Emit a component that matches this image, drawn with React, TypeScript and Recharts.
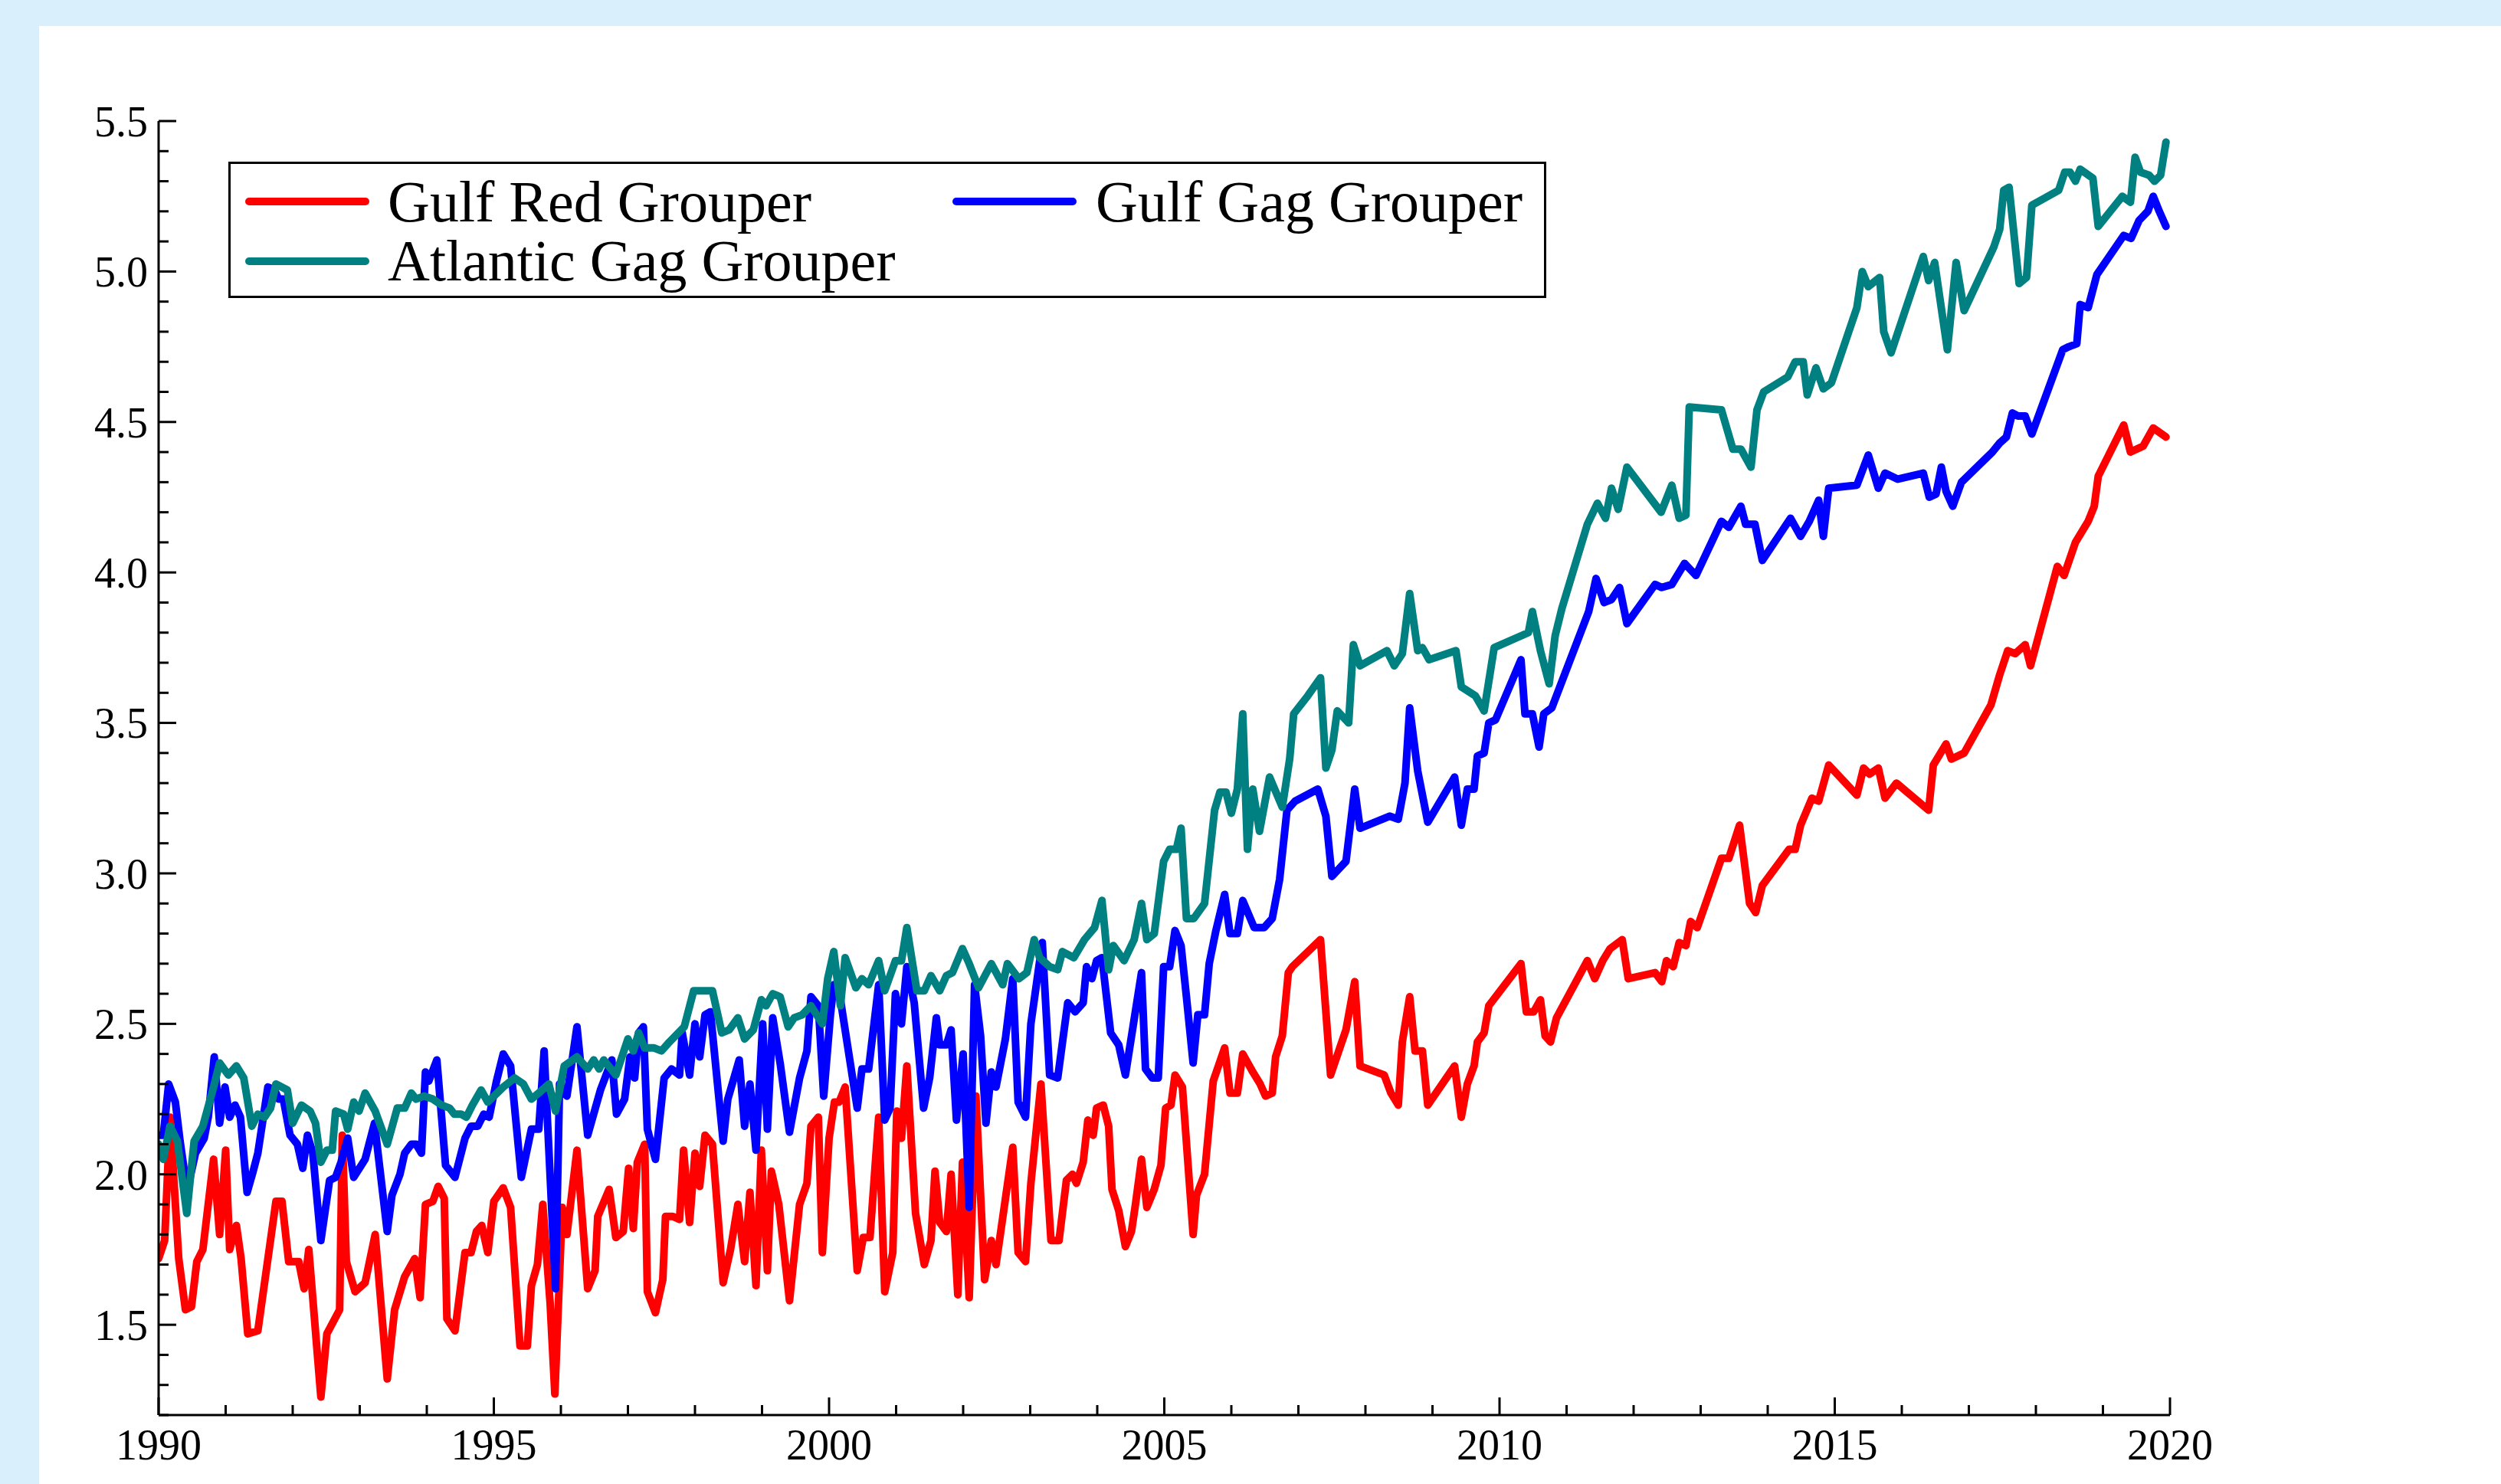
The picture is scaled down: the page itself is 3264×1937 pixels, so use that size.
import { Line, LineChart, XAxis, YAxis } from "recharts";

// Gulf Red Grouper
const redYears = [
  1990.0, 1990.09, 1990.17, 1990.3, 1990.4, 1990.49, 1990.57, 1990.66, 1990.82, 1990.91,
  1991.0, 1991.06, 1991.16, 1991.23, 1991.33, 1991.48, 1991.75, 1991.84, 1991.94, 1992.09,
  1992.17, 1992.24, 1992.42, 1992.51, 1992.7, 1992.74, 1992.8, 1992.93, 1993.08, 1993.23,
  1993.41, 1993.52, 1993.67, 1993.82, 1993.9, 1993.98, 1994.09, 1994.17, 1994.26, 1994.3,
  1994.42, 1994.57, 1994.66, 1994.74, 1994.82, 1994.91, 1995.0, 1995.14, 1995.25, 1995.39,
  1995.5, 1995.56, 1995.65, 1995.73, 1995.84, 1995.91, 1996.02, 1996.09, 1996.24, 1996.4,
  1996.51, 1996.55, 1996.72, 1996.82, 1996.93, 1997.01, 1997.08, 1997.14, 1997.25, 1997.29,
  1997.41, 1997.52, 1997.56, 1997.67, 1997.77, 1997.83, 1997.92, 1998.0, 1998.07, 1998.15,
  1998.26, 1998.42, 1998.53, 1998.64, 1998.74, 1998.82, 1998.91, 1998.99, 1999.08, 1999.14,
  1999.25, 1999.41, 1999.56, 1999.67, 1999.73, 1999.84, 1999.9, 2000.0, 2000.08, 2000.15,
  2000.24, 2000.42, 2000.51, 2000.61, 2000.74, 2000.83, 2000.95, 2001.01, 2001.08, 2001.16,
  2001.29, 2001.42, 2001.52, 2001.58, 2001.65, 2001.75, 2001.82, 2001.92, 2001.99, 2002.09,
  2002.19, 2002.32, 2002.42, 2002.49, 2002.74, 2002.82, 2002.93, 2003.01, 2003.16, 2003.31,
  2003.43, 2003.54, 2003.63, 2003.69, 2003.79, 2003.86, 2003.94, 2003.99, 2004.09, 2004.17,
  2004.22, 2004.32, 2004.42, 2004.51, 2004.57, 2004.66, 2004.74, 2004.85, 2004.95, 2005.02,
  2005.1, 2005.16, 2005.27, 2005.43, 2005.48, 2005.6, 2005.73, 2005.9, 2005.98, 2006.09,
  2006.17, 2006.32, 2006.43, 2006.51, 2006.61, 2006.66, 2006.76, 2006.85, 2006.91, 2007.33,
  2007.48, 2007.71, 2007.84, 2007.92, 2008.28, 2008.38, 2008.49, 2008.55, 2008.66, 2008.74,
  2008.85, 2008.93, 2009.33, 2009.43, 2009.52, 2009.62, 2009.67, 2009.77, 2009.84, 2010.32,
  2010.4, 2010.51, 2010.61, 2010.68, 2010.76, 2010.85, 2011.31, 2011.42, 2011.54, 2011.65,
  2011.83, 2011.92, 2012.32, 2012.42, 2012.49, 2012.59, 2012.68, 2012.78, 2012.85, 2012.95,
  2013.31, 2013.42, 2013.58, 2013.73, 2013.82, 2013.92, 2014.32, 2014.41, 2014.49, 2014.66,
  2014.76, 2014.91, 2015.33, 2015.43, 2015.52, 2015.65, 2015.75, 2015.92, 2016.4, 2016.47,
  2016.66, 2016.74, 2016.93, 2017.33, 2017.46, 2017.58, 2017.69, 2017.84, 2017.92, 2018.32,
  2018.42, 2018.59, 2018.78, 2018.87, 2018.93, 2019.31, 2019.41, 2019.6, 2019.75, 2019.94,
];
const redValues = [
  1.72, 1.78, 2.19, 1.72, 1.55, 1.56, 1.71, 1.75, 2.05, 1.8,
  2.08, 1.75, 1.83, 1.72, 1.47, 1.48, 1.91, 1.91, 1.71, 1.71,
  1.62, 1.75, 1.26, 1.47, 1.55, 2.13, 1.71, 1.61, 1.64, 1.8,
  1.32, 1.55, 1.66, 1.72, 1.59, 1.9, 1.91, 1.96, 1.92, 1.52,
  1.48, 1.74, 1.74, 1.81, 1.83, 1.74, 1.91, 1.955, 1.89, 1.43,
  1.43, 1.63, 1.7, 1.9, 1.57, 1.27, 1.89, 1.8, 2.08, 1.62,
  1.68, 1.86, 1.95, 1.79, 1.81, 2.02, 1.82, 2.04, 2.1, 1.61,
  1.54, 1.65, 1.86, 1.86, 1.85, 2.08, 1.84, 2.07, 1.96, 2.13,
  2.1, 1.64, 1.75, 1.9, 1.71, 1.94, 1.63, 2.08, 1.68, 2.01,
  1.9, 1.58, 1.9, 1.97, 2.16, 2.19, 1.74, 2.12, 2.24, 2.24,
  2.29, 1.68, 1.79, 1.79, 2.19, 1.61, 1.74, 2.21, 2.12, 2.36,
  1.87, 1.7, 1.78, 2.01, 1.84, 1.81, 2.0, 1.6, 2.04, 1.59,
  2.26, 1.65, 1.78, 1.7, 2.09, 1.74, 1.71, 1.97, 2.3, 1.78,
  1.78, 1.98, 2.0, 1.97, 2.04, 2.18, 2.13, 2.22, 2.23, 2.16,
  1.95, 1.88, 1.76, 1.81, 1.9, 2.05, 1.89, 1.95, 2.03, 2.22,
  2.23, 2.33, 2.29, 1.8, 1.93, 2.0, 2.31, 2.42, 2.27, 2.27,
  2.4, 2.34, 2.3, 2.26, 2.27, 2.39, 2.46, 2.67, 2.69, 2.78,
  2.33, 2.48, 2.64, 2.36, 2.33, 2.27, 2.23, 2.44, 2.59, 2.41,
  2.41, 2.23, 2.36, 2.19, 2.3, 2.36, 2.44, 2.47, 2.56, 2.7,
  2.54, 2.54, 2.58, 2.46, 2.44, 2.52, 2.71, 2.65, 2.71, 2.75,
  2.78, 2.65, 2.67, 2.64, 2.71, 2.69, 2.77, 2.76, 2.84, 2.82,
  3.05, 3.05, 3.16, 2.9, 2.87, 2.96, 3.08, 3.08, 3.16, 3.25,
  3.24, 3.36, 3.26, 3.35, 3.33, 3.35, 3.25, 3.3, 3.21, 3.36,
  3.43, 3.38, 3.4, 3.56, 3.66, 3.74, 3.73, 3.76, 3.69, 4.02,
  3.99, 4.1, 4.17, 4.22, 4.32, 4.49, 4.4, 4.42, 4.48, 4.45,
];

// Gulf Gag Grouper
const blueYears = [
  1990.0, 1990.07, 1990.15, 1990.25, 1990.32, 1990.41, 1990.47, 1990.55, 1990.68, 1990.74,
  1990.83, 1990.91, 1990.99, 1991.06, 1991.14, 1991.22, 1991.32, 1991.41, 1991.48, 1991.63,
  1991.73, 1991.79, 1991.86, 1991.96, 1992.07, 1992.15, 1992.22, 1992.3, 1992.42, 1992.55,
  1992.64, 1992.72, 1992.82, 1992.91, 1993.08, 1993.22, 1993.41, 1993.48, 1993.6, 1993.67,
  1993.77, 1993.84, 1993.92, 1993.98, 1994.03, 1994.15, 1994.28, 1994.42, 1994.57, 1994.66,
  1994.76, 1994.85, 1994.93, 1995.04, 1995.14, 1995.25, 1995.41, 1995.56, 1995.67, 1995.75,
  1995.92, 1995.98, 1996.09, 1996.24, 1996.4, 1996.59, 1996.76, 1996.83, 1996.95, 1997.03,
  1997.1, 1997.16, 1997.23, 1997.29, 1997.41, 1997.54, 1997.65, 1997.77, 1997.81, 1997.92,
  1998.0, 1998.07, 1998.15, 1998.23, 1998.42, 1998.49, 1998.66, 1998.74, 1998.82, 1998.91,
  1999.01, 1999.08, 1999.16, 1999.27, 1999.41, 1999.56, 1999.67, 1999.73, 1999.84, 1999.92,
  2000.02, 2000.07, 2000.17, 2000.42, 2000.49, 2000.59, 2000.74, 2000.83, 2000.91, 2000.99,
  2001.08, 2001.16, 2001.27, 2001.41, 2001.5, 2001.6, 2001.65, 2001.75, 2001.82, 2001.9,
  2002.0, 2002.09, 2002.17, 2002.26, 2002.34, 2002.42, 2002.49, 2002.63, 2002.74, 2002.82,
  2002.93, 2003.01, 2003.18, 2003.29, 2003.41, 2003.56, 2003.67, 2003.79, 2003.84, 2003.92,
  2003.99, 2004.07, 2004.2, 2004.32, 2004.42, 2004.66, 2004.72, 2004.82, 2004.91, 2004.99,
  2005.08, 2005.16, 2005.25, 2005.33, 2005.43, 2005.5, 2005.6, 2005.67, 2005.77, 2005.9,
  2005.98, 2006.09, 2006.17, 2006.34, 2006.49, 2006.61, 2006.72, 2006.83, 2006.95, 2007.29,
  2007.41, 2007.5, 2007.71, 2007.84, 2007.92, 2008.36, 2008.49, 2008.59, 2008.66, 2008.78,
  2008.93, 2009.33, 2009.43, 2009.52, 2009.62, 2009.67, 2009.77, 2009.84, 2009.94, 2010.32,
  2010.38, 2010.49, 2010.59, 2010.66, 2010.78, 2011.33, 2011.44, 2011.56, 2011.67, 2011.79,
  2011.9, 2012.32, 2012.42, 2012.57, 2012.76, 2012.93, 2013.31, 2013.42, 2013.6, 2013.67,
  2013.81, 2013.92, 2014.34, 2014.49, 2014.62, 2014.76, 2014.83, 2014.91, 2015.33, 2015.5,
  2015.65, 2015.75, 2015.94, 2016.32, 2016.41, 2016.51, 2016.59, 2016.66, 2016.76, 2016.89,
  2017.35, 2017.46, 2017.56, 2017.65, 2017.73, 2017.84, 2017.94, 2018.4, 2018.49, 2018.61,
  2018.66, 2018.78, 2018.91, 2019.31, 2019.42, 2019.54, 2019.67, 2019.75, 2019.84, 2019.94,
];
const blueValues = [
  2.13, 2.13, 2.3, 2.24, 2.11, 1.97, 1.99, 2.07, 2.12, 2.19,
  2.39, 2.17, 2.29, 2.19, 2.23, 2.19, 1.94, 2.01, 2.07, 2.29,
  2.28, 2.25, 2.25, 2.13, 2.1, 2.02, 2.13, 2.07, 1.78, 1.98,
  1.99, 2.04, 2.12, 1.99, 2.05, 2.17, 1.81, 1.93, 2.0, 2.07,
  2.1, 2.1, 2.07, 2.34, 2.31, 2.38, 2.03, 1.99, 2.12, 2.16,
  2.16, 2.2, 2.19, 2.31, 2.4, 2.36, 1.99, 2.15, 2.15, 2.41,
  1.62, 2.3, 2.26, 2.49, 2.13, 2.28, 2.38, 2.2, 2.25, 2.39,
  2.32, 2.47, 2.49, 2.15, 2.05, 2.32, 2.35, 2.33, 2.47, 2.33,
  2.5, 2.39, 2.53, 2.54, 2.11, 2.25, 2.38, 2.16, 2.3, 2.08,
  2.5, 2.15, 2.52, 2.37, 2.14, 2.32, 2.41, 2.59, 2.56, 2.26,
  2.53, 2.63, 2.58, 2.22, 2.35, 2.35, 2.63, 2.18, 2.22, 2.6,
  2.5, 2.69, 2.57, 2.22, 2.32, 2.52, 2.43, 2.43, 2.48, 2.18,
  2.4, 1.89, 2.63, 2.46, 2.17, 2.34, 2.29, 2.45, 2.65, 2.24,
  2.19, 2.5, 2.77, 2.33, 2.32, 2.57, 2.54, 2.57, 2.69, 2.65,
  2.71, 2.72, 2.47, 2.43, 2.33, 2.67, 2.35, 2.32, 2.32, 2.69,
  2.69, 2.81, 2.76, 2.59, 2.37, 2.53, 2.53, 2.7, 2.81, 2.93,
  2.8, 2.8, 2.91, 2.82, 2.82, 2.85, 2.98, 3.21, 3.24, 3.28,
  3.19, 2.99, 3.04, 3.28, 3.15, 3.19, 3.18, 3.3, 3.55, 3.34,
  3.17, 3.32, 3.16, 3.28, 3.28, 3.39, 3.4, 3.5, 3.51, 3.71,
  3.53, 3.53, 3.42, 3.53, 3.55, 3.87, 3.98, 3.9, 3.91, 3.95,
  3.83, 3.96, 3.95, 3.96, 4.03, 3.99, 4.17, 4.15, 4.22, 4.16,
  4.16, 4.04, 4.18, 4.12, 4.17, 4.24, 4.12, 4.28, 4.29, 4.39,
  4.28, 4.33, 4.31, 4.33, 4.25, 4.26, 4.35, 4.27, 4.22, 4.3,
  4.4, 4.43, 4.45, 4.53, 4.52, 4.52, 4.46, 4.74, 4.75, 4.76,
  4.89, 4.88, 4.99, 5.12, 5.11, 5.17, 5.2, 5.25, 5.2, 5.15,
];

// Atlantic Gag Grouper
const tealYears = [
  1990.0, 1990.07, 1990.17, 1990.28, 1990.42, 1990.53, 1990.66, 1990.82, 1990.91, 1991.04,
  1991.16, 1991.27, 1991.39, 1991.48, 1991.58, 1991.67, 1991.75, 1991.92, 1992.0, 1992.13,
  1992.26, 1992.34, 1992.42, 1992.51, 1992.59, 1992.64, 1992.76, 1992.82, 1992.91, 1992.99,
  1993.08, 1993.23, 1993.41, 1993.56, 1993.67, 1993.77, 1993.84, 1993.96, 1994.09, 1994.22,
  1994.34, 1994.41, 1994.51, 1994.59, 1994.68, 1994.81, 1994.91, 1995.05, 1995.14, 1995.31,
  1995.44, 1995.56, 1995.67, 1995.82, 1995.92, 1996.05, 1996.24, 1996.4, 1996.49, 1996.57,
  1996.64, 1996.82, 1997.0, 1997.08, 1997.16, 1997.25, 1997.39, 1997.5, 1997.62, 1997.84,
  1997.98, 1998.13, 1998.26, 1998.4, 1998.51, 1998.64, 1998.74, 1998.87, 1998.99, 1999.06,
  1999.16, 1999.27, 1999.39, 1999.48, 1999.6, 1999.73, 1999.9, 1999.98, 2000.07, 2000.17,
  2000.24, 2000.4, 2000.49, 2000.59, 2000.74, 2000.83, 2000.99, 2001.08, 2001.16, 2001.31,
  2001.42, 2001.52, 2001.65, 2001.75, 2001.84, 2001.99, 2002.09, 2002.23, 2002.42, 2002.59,
  2002.66, 2002.83, 2002.95, 2003.06, 2003.14, 2003.29, 2003.41, 2003.48, 2003.65, 2003.81,
  2003.96, 2004.07, 2004.17, 2004.24, 2004.4, 2004.55, 2004.66, 2004.74, 2004.85, 2004.99,
  2005.08, 2005.18, 2005.25, 2005.33, 2005.44, 2005.6, 2005.75, 2005.83, 2005.92, 2006.0,
  2006.09, 2006.17, 2006.24, 2006.32, 2006.42, 2006.57, 2006.76, 2006.87, 2006.93, 2007.14,
  2007.33, 2007.41, 2007.5, 2007.58, 2007.75, 2007.82, 2007.92, 2008.32, 2008.43, 2008.55,
  2008.66, 2008.78, 2008.85, 2008.95, 2009.35, 2009.43, 2009.64, 2009.77, 2009.92, 2010.43,
  2010.49, 2010.61, 2010.74, 2010.83, 2010.93, 2011.31, 2011.46, 2011.58, 2011.67, 2011.77,
  2011.9, 2012.41, 2012.57, 2012.68, 2012.78, 2012.83, 2013.31, 2013.48, 2013.6, 2013.75,
  2013.84, 2013.94, 2014.3, 2014.41, 2014.53, 2014.59, 2014.72, 2014.83, 2014.95, 2015.33,
  2015.41, 2015.5, 2015.67, 2015.73, 2015.84, 2016.32, 2016.4, 2016.49, 2016.68, 2016.81,
  2016.93, 2017.37, 2017.46, 2017.52, 2017.6, 2017.75, 2017.86, 2017.94, 2018.34, 2018.43,
  2018.51, 2018.59, 2018.66, 2018.85, 2018.93, 2019.29, 2019.41, 2019.48, 2019.56, 2019.69,
  2019.77, 2019.86, 2019.94,
];
const tealValues = [
  2.1, 2.05, 2.16, 2.11, 1.87, 2.11, 2.16, 2.29, 2.37, 2.33,
  2.36, 2.32, 2.16, 2.2, 2.19, 2.22, 2.3, 2.28, 2.17, 2.23,
  2.21, 2.17, 2.04, 2.08, 2.08, 2.21, 2.2, 2.15, 2.24, 2.21,
  2.27, 2.21, 2.1, 2.22, 2.22, 2.27, 2.25, 2.26, 2.25, 2.23,
  2.22, 2.2, 2.2, 2.19, 2.23, 2.28, 2.24, 2.27, 2.29, 2.32,
  2.3, 2.25, 2.27, 2.3, 2.21, 2.36, 2.39, 2.35, 2.38, 2.35,
  2.38, 2.33, 2.45, 2.41, 2.47, 2.42, 2.42, 2.41, 2.44, 2.49,
  2.61, 2.61, 2.61, 2.47, 2.48, 2.52, 2.45, 2.48, 2.58, 2.56,
  2.6, 2.59, 2.49, 2.52, 2.53, 2.56, 2.5, 2.65, 2.74, 2.56,
  2.72, 2.62, 2.65, 2.63, 2.71, 2.61, 2.71, 2.71, 2.82, 2.61,
  2.61, 2.66, 2.61, 2.66, 2.67, 2.75, 2.7, 2.62, 2.7, 2.63,
  2.7, 2.65, 2.67, 2.78, 2.72, 2.69, 2.68, 2.74, 2.72, 2.78,
  2.82, 2.91, 2.68, 2.76, 2.71, 2.78, 2.9, 2.78, 2.8, 3.04,
  3.08, 3.08, 3.15, 2.85, 2.85, 2.9, 3.21, 3.27, 3.27, 3.2,
  3.28, 3.53, 3.08, 3.28, 3.14, 3.32, 3.22, 3.38, 3.53, 3.59,
  3.65, 3.35, 3.41, 3.54, 3.5, 3.76, 3.69, 3.74, 3.69, 3.73,
  3.93, 3.74, 3.75, 3.71, 3.74, 3.62, 3.59, 3.54, 3.75, 3.8,
  3.87, 3.74, 3.63, 3.79, 3.88, 4.16, 4.23, 4.18, 4.28, 4.21,
  4.35, 4.2, 4.29, 4.18, 4.19, 4.55, 4.54, 4.41, 4.41, 4.35,
  4.54, 4.6, 4.65, 4.7, 4.7, 4.59, 4.68, 4.61, 4.63, 4.88,
  5.0, 4.95, 4.98, 4.8, 4.73, 5.05, 4.97, 5.03, 4.74, 5.03,
  4.87, 5.08, 5.14, 5.27, 5.28, 4.96, 4.98, 5.22, 5.27, 5.33,
  5.33, 5.3, 5.34, 5.31, 5.15, 5.25, 5.23, 5.38, 5.33, 5.32,
  5.3, 5.32, 5.43,
];

// every year / every 0.1 gets a tick; only the multiples of 5 / 0.5 get a label
const yearTicks = Array.from({ length: 31 }, (_, i) => 1990 + i);
const valueTicks = Array.from({ length: 44 }, (_, i) => Math.round((1.2 + i * 0.1) * 10) / 10);

const series = [
  { name: "Gulf Red Grouper", color: "#ff0000", years: redYears, values: redValues },
  { name: "Gulf Gag Grouper", color: "#0000ff", years: blueYears, values: blueValues },
  { name: "Atlantic Gag Grouper", color: "#008080", years: tealYears, values: tealValues },
];

const FONT = "'Liberation Serif', 'Times New Roman', serif";
const X_MARGIN = 18;
const Y_MARGIN = 14;

// bottom axis: label at (x, y); axis line sits X_MARGIN above it, ticks point up into the plot
const YearTick = (props: any) => {
  const { x, y, payload } = props;
  const v = payload.value as number;
  const major = v % 5 === 0;
  const axisY = y - X_MARGIN;
  return (
    <g>
      <line x1={x} x2={x} y1={axisY} y2={axisY - (major ? 23 : 13)} stroke="#000" strokeWidth={3} />
      {major && (
        <text x={x} y={y} dy="0.71em" textAnchor="middle" fontSize={56} fontFamily={FONT} fill="#000">
          {v}
        </text>
      )}
    </g>
  );
};

// left axis: label anchored at x (end), axis line Y_MARGIN to the right, ticks point right
const ValueTick = (props: any) => {
  const { x, y, payload } = props;
  const v = payload.value as number;
  const major = v >= 1.5 && Math.abs(v * 2 - Math.round(v * 2)) < 1e-6;
  const axisX = x + Y_MARGIN;
  return (
    <g>
      <line x1={axisX} x2={axisX + (major ? 23 : 13)} y1={y} y2={y} stroke="#000" strokeWidth={3} />
      {major && (
        <text x={x} y={y} dy="0.355em" textAnchor="end" fontSize={56} fontFamily={FONT} fill="#000">
          {v.toFixed(1)}
        </text>
      )}
    </g>
  );
};

const LegendBox = () => (
  <svg
    width={1720}
    height={178}
    style={{ position: "absolute", left: 298, top: 211 }}
  >
    <rect x={1.5} y={1.5} width={1717} height={175} fill="#fff" stroke="#000" strokeWidth={3} />
    {[
      { s: series[0], lx: 27, tx: 208, ly: 52, ty: 78 },
      { s: series[1], lx: 950, tx: 1132, ly: 52, ty: 78 },
      { s: series[2], lx: 27, tx: 208, ly: 130, ty: 155 },
    ].map(({ s, lx, tx, ly, ty }) => (
      <g key={s.name}>
        <line
          x1={lx}
          x2={lx + 152}
          y1={ly}
          y2={ly}
          stroke={s.color}
          strokeWidth={10}
          strokeLinecap="round"
        />
        <text x={tx} y={ty} fontSize={76} fontFamily={FONT} fill="#000">
          {s.name}
        </text>
      </g>
    ))}
  </svg>
);

const App = () => {
  return (
    <div
      style={{
        position: "absolute",
        left: 0,
        top: 0,
        width: 3264,
        height: 1937,
        background: "#d9effc",
        overflow: "hidden",
      }}
    >
      <div
        style={{
          position: "absolute",
          left: 51,
          top: 34,
          right: 0,
          bottom: 0,
          background: "#fff",
        }}
      />
      <div style={{ position: "absolute", left: 0, top: 0 }}>
        <LineChart
          width={3264}
          height={1937}
          margin={{ top: 158, right: 432, bottom: 0, left: 67 }}
        >
          <XAxis
            xAxisId="x"
            type="number"
            dataKey="x"
            domain={[1990, 2020]}
            allowDataOverflow
            ticks={yearTicks}
            interval={0}
            height={90}
            tickSize={0}
            tickMargin={X_MARGIN}
            axisLine={{ stroke: "#000", strokeWidth: 3 }}
            tickLine={false}
            tick={YearTick}
          />
          <YAxis
            yAxisId="y"
            type="number"
            domain={[1.2, 5.5]}
            allowDataOverflow
            ticks={valueTicks}
            interval={0}
            width={140}
            tickSize={0}
            tickMargin={Y_MARGIN}
            axisLine={{ stroke: "#000", strokeWidth: 3 }}
            tickLine={false}
            tick={ValueTick}
          />
          {series.map((s) => (
            <Line
              key={s.name}
              name={s.name}
              data={s.years.map((x, i) => ({ x, v: s.values[i] }))}
              dataKey="v"
              xAxisId="x"
              yAxisId="y"
              type="linear"
              stroke={s.color}
              strokeWidth={10}
              strokeLinejoin="round"
              strokeLinecap="round"
              dot={false}
              activeDot={false}
              isAnimationActive={false}
            />
          ))}
        </LineChart>
      </div>
      <LegendBox />
    </div>
  );
};

export default App;
